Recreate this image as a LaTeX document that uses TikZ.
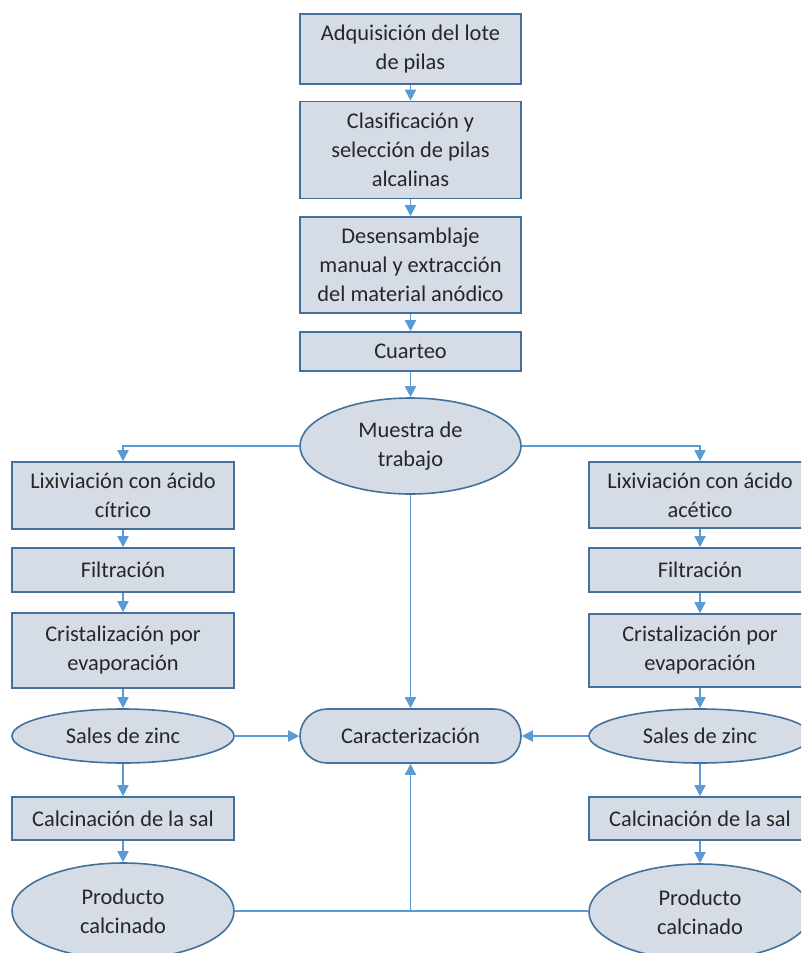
\documentclass[tikz,border=0pt]{standalone}
\usepackage{fontspec}
\setmainfont{Carlito}[Ligatures=NoCommon]
\usetikzlibrary{shapes.geometric,arrows.meta}
\definecolor{boxfill}{HTML}{D6DCE5}
\definecolor{boxline}{HTML}{41719C}
\definecolor{flow}{HTML}{5B9BD5}
\tikzset{
    every node/.style={draw=boxline, fill=boxfill, line width=1.6pt, inner sep=0mm,
      align=center, text=black!85, font=\fontsize{22.4}{29}\selectfont}
}
\tikzset{paso/.style={rectangle, minimum width=221pt}}
\tikzset{salida/.style={ellipse, minimum width=222pt}}
\tikzset{flecha/.style={draw=flow, line width=1.8pt, -{Triangle[length=11pt,width=11pt]}}}
\tikzset{union/.style={draw=flow, line width=1.8pt}}

\begin{document}
\begin{tikzpicture}[x=1pt, y=-1pt]
  \useasboundingbox (0,0) rectangle (801,953);
  \clip (0,0) rectangle (801,953);
  % central column
  \node (n1) [paso, minimum height=70pt] at (410.5,49) {Adquisición del lote\\de pilas};
  \node (n2) [paso, minimum height=97pt] at (410.5,150) {Clasificación y\\selección de pilas\\alcalinas};
  \node (n3) [paso, minimum height=96pt] at (410.5,265) {Desensamblaje\\manual y extracción\\del material anódico};
  \node (n4) [paso, minimum height=39pt] at (410.5,351.5) {Cuarteo};
  \node (mu) [salida, minimum width=221pt, minimum height=96pt] at (410.5,446) {Muestra de\\trabajo};
  \node (ca) [rectangle, rounded corners=27pt, minimum width=221pt, minimum height=54pt] at (410.5,736) {Caracterización};
  % left column
  \node (l1) [paso, minimum width=222pt, minimum height=67pt] at (123,495.5) {Lixiviación con ácido\\cítrico};
  \node (l2) [paso, minimum width=222pt, minimum height=44pt] at (123,570) {Filtración};
  \node (l3) [paso, minimum width=222pt, minimum height=75pt] at (123,650.5) {Cristalización por\\evaporación};
  \node (l4) [salida, minimum height=54pt] at (123,736) {Sales de zinc};
  \node (l5) [paso, minimum width=222pt, minimum height=43pt] at (123,818.5) {Calcinación de la sal};
  \node (l6) [salida, minimum height=96pt] at (123,911) {Producto\\calcinado};
  % right column
  \node (r1) [paso, minimum width=222pt, minimum height=66pt] at (700,495) {Lixiviación con ácido\\acético};
  \node (r2) [paso, minimum width=222pt, minimum height=44pt] at (700,570) {Filtración};
  \node (r3) [paso, minimum width=222pt, minimum height=73pt] at (700,650.5) {Cristalización por\\evaporación};
  \node (r4) [salida, minimum height=54pt] at (700,736) {Sales de zinc};
  \node (r5) [paso, minimum width=222pt, minimum height=43pt] at (700,818.5) {Calcinación de la sal};
  \node (r6) [salida, minimum height=96pt] at (700,912) {Producto\\calcinado};
  \coordinate (jn) at (410.5,911);

  \draw [flecha] (n1) -- (n2);
  \draw [flecha] (n2) -- (n3);
  \draw [flecha] (n3) -- (n4);
  \draw [flecha] (n4) -- (mu);
  \draw [flecha] (mu.west) -| (l1.north);
  \draw [flecha] (mu.east) -| (r1.north);
  \draw [flecha] (mu) -- (ca);
  \draw [flecha] (l1) -- (l2);
  \draw [flecha] (l2) -- (l3);
  \draw [flecha] (l3) -- (l4);
  \draw [flecha] (l4) -- (l5);
  \draw [flecha] (l5) -- (l6);
  \draw [flecha] (r1) -- (r2);
  \draw [flecha] (r2) -- (r3);
  \draw [flecha] (r3) -- (r4);
  \draw [flecha] (r4) -- (r5);
  \draw [flecha] (r5) -- (r6);
  \draw [flecha] (l4) -- (ca);
  \draw [flecha] (r4) -- (ca);
  \draw [union] (l6.east) -- (jn) -- (jn -| r6.west);
  \draw [flecha] (jn) -- (ca);
\end{tikzpicture}
\end{document}
